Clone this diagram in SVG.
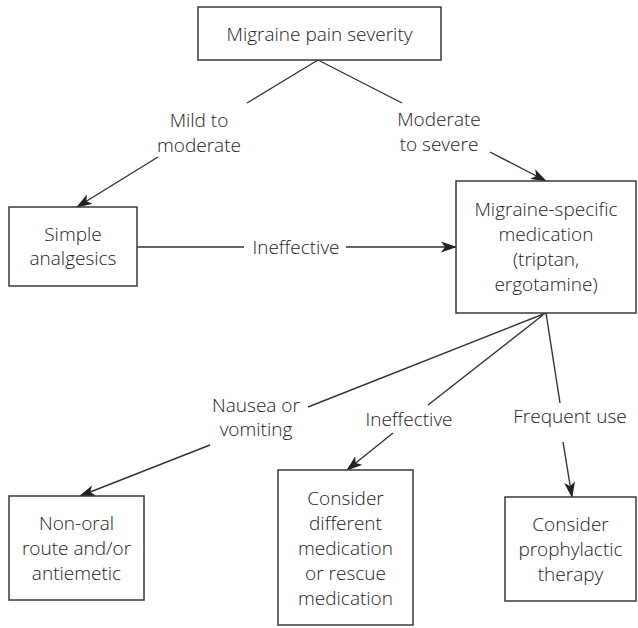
<svg xmlns="http://www.w3.org/2000/svg" width="638" height="628" viewBox="0 0 638 628">
  <style>
    .box { fill: #ffffff; stroke: #3a3a3a; stroke-width: 1.5; }
    .lbl { font-family: "Open Sans", "Liberation Sans", Arial, sans-serif; font-size: 19px; font-weight: 300; fill: #222222; text-anchor: middle; }
    .edge { fill: none; stroke: #333333; stroke-width: 1.4; }
    .arrow { marker-end: url(#head); }
  </style>
  <defs>
    <marker id="head" markerUnits="userSpaceOnUse" markerWidth="16" markerHeight="12" viewBox="0 0 16 12" refX="15" refY="6" orient="auto">
      <path d="M0,0.5 L16,6 L0,11.5 L4,6 Z" fill="#222222"/>
    </marker>
  </defs>
  <rect width="638" height="628" fill="#ffffff"/>

  <!-- connectors -->
  <g id="connectors">
    <!-- severity -> simple analgesics -->
    <line class="edge" x1="318" y1="60" x2="247" y2="103"/>
    <line class="edge arrow" x1="158" y1="157" x2="77" y2="207"/>
    <text class="lbl" x="199" y="127">Mild to</text>
    <text class="lbl" x="199" y="152">moderate</text>

    <!-- severity -> migraine-specific -->
    <line class="edge" x1="318" y1="60" x2="402" y2="103"/>
    <line class="edge arrow" x1="490" y1="152" x2="546" y2="181"/>
    <text class="lbl" x="439" y="126">Moderate</text>
    <text class="lbl" x="439" y="151">to severe</text>

    <!-- simple analgesics -> migraine-specific -->
    <line class="edge" x1="137" y1="247" x2="244" y2="247"/>
    <line class="edge arrow" x1="346" y1="247" x2="456" y2="247"/>
    <text class="lbl" x="296" y="254">Ineffective</text>

    <!-- migraine-specific -> non-oral -->
    <line class="edge" x1="546" y1="313" x2="308" y2="407"/>
    <line class="edge arrow" x1="210" y1="445" x2="80" y2="496"/>
    <text class="lbl" x="256" y="412">Nausea or</text>
    <text class="lbl" x="256" y="436">vomiting</text>

    <!-- migraine-specific -> different medication -->
    <line class="edge" x1="543" y1="315" x2="428" y2="405"/>
    <line class="edge arrow" x1="393" y1="433" x2="347" y2="470"/>
    <text class="lbl" x="409" y="426">Ineffective</text>

    <!-- migraine-specific -> prophylactic -->
    <line class="edge" x1="546" y1="313" x2="560" y2="403"/>
    <line class="edge arrow" x1="563" y1="442" x2="572" y2="497"/>
    <text class="lbl" x="570" y="423">Frequent use</text>
  </g>

  <g id="severity">
    <rect class="box" x="198" y="7" width="243" height="53"/>
    <text class="lbl" x="319.5" y="40.5">Migraine pain severity</text>
  </g>

  <g id="simple-analgesics">
    <rect class="box" x="9" y="207" width="128" height="79"/>
    <text class="lbl" x="73" y="241">Simple</text>
    <text class="lbl" x="73" y="265">analgesics</text>
  </g>

  <g id="migraine-specific">
    <rect class="box" x="456" y="181" width="180" height="132"/>
    <text class="lbl" x="546" y="216">Migraine-specific</text>
    <text class="lbl" x="546" y="241">medication</text>
    <text class="lbl" x="546" y="266">(triptan,</text>
    <text class="lbl" x="546" y="291">ergotamine)</text>
  </g>

  <g id="non-oral">
    <rect class="box" x="9" y="496" width="135" height="104"/>
    <text class="lbl" x="76.5" y="530">Non-oral</text>
    <text class="lbl" x="76.5" y="555">route and/or</text>
    <text class="lbl" x="76.5" y="580">antiemetic</text>
  </g>

  <g id="different-medication">
    <rect class="box" x="278" y="470" width="135" height="155"/>
    <text class="lbl" x="345.5" y="505">Consider</text>
    <text class="lbl" x="345.5" y="530">different</text>
    <text class="lbl" x="345.5" y="555">medication</text>
    <text class="lbl" x="345.5" y="580">or rescue</text>
    <text class="lbl" x="345.5" y="605">medication</text>
  </g>

  <g id="prophylactic">
    <rect class="box" x="505" y="497" width="131" height="104"/>
    <text class="lbl" x="570.5" y="531">Consider</text>
    <text class="lbl" x="570.5" y="556">prophylactic</text>
    <text class="lbl" x="570.5" y="581">therapy</text>
  </g>
</svg>
